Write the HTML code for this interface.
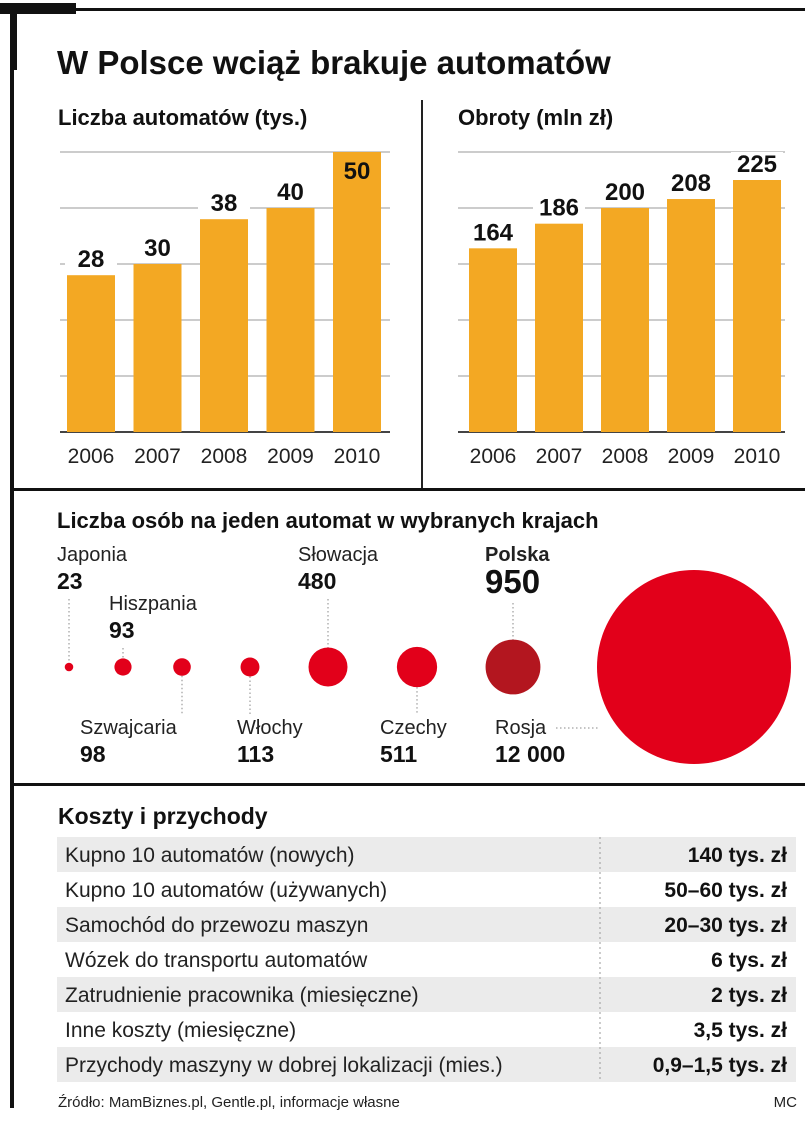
<!DOCTYPE html>
<html><head><meta charset="utf-8">
<style>
body{margin:0;background:#fff;font-family:"Liberation Sans",sans-serif;}
svg text{font-family:"Liberation Sans",sans-serif;}
</style></head>
<body>
<svg id="c" width="805" height="1129" viewBox="0 0 805 1129" xmlns="http://www.w3.org/2000/svg">
<rect x="0" y="0" width="805" height="1129" fill="#fff"/>
<rect x="0" y="3" width="76" height="11" fill="#111"/>
<rect x="76" y="8" width="729" height="3" fill="#111"/>
<rect x="12" y="8" width="5" height="62" fill="#111"/>
<rect x="10" y="8" width="4" height="1100" fill="#111"/>
<text x="57" y="74" font-size="33" font-weight="bold" fill="#111">W Polsce wciąż brakuje automatów</text>
<text x="58" y="125" font-size="22" font-weight="bold" fill="#111">Liczba automatów (tys.)</text>
<text x="458" y="125" font-size="22" font-weight="bold" fill="#111">Obroty (mln zł)</text>
<rect x="421" y="100" width="2" height="388" fill="#222"/>
<rect x="12" y="488" width="793" height="3" fill="#111"/>
<g id="left"></g><g id="right"></g>
<text x="57" y="528" font-size="22" font-weight="bold" fill="#111">Liczba osób na jeden automat w wybranych krajach</text>
<g id="bubbles"></g>
<rect x="12" y="783" width="793" height="3" fill="#111"/>
<text x="58" y="824" font-size="23" font-weight="bold" fill="#111">Koszty i przychody</text>
<g id="table"></g>
<text x="58" y="1107" font-size="15" fill="#222">Źródło: MamBiznes.pl, Gentle.pl, informacje własne</text>
<text x="797" y="1107" font-size="15" fill="#222" text-anchor="end">MC</text>
</svg>
<script>
const years = ["2006","2007","2008","2009","2010"];
const machines = [28,30,38,40,50];
const turnover = [164,186,200,208,225];
const leftMax = 50;
const rightMax = 250;
const countries = ["Japonia","Hiszpania","Szwajcaria","Włochy","Słowacja","Czechy","Polska","Rosja"];
const peoplePerMachine = [23,93,98,113,480,511,950,12000];
const peopleLabels = ["23","93","98","113","480","511","950","12 000"];
const costItems = ["Kupno 10 automatów (nowych)","Kupno 10 automatów (używanych)","Samochód do przewozu maszyn","Wózek do transportu automatów","Zatrudnienie pracownika (miesięczne)","Inne koszty (miesięczne)","Przychody maszyny w dobrej lokalizacji (mies.)"];
const costValues = ["140 tys. zł","50–60 tys. zł","20–30 tys. zł","6 tys. zł","2 tys. zł","3,5 tys. zł","0,9–1,5 tys. zł"];

const NS="http://www.w3.org/2000/svg";
function mk(tag,attrs,parent,text){const e=document.createElementNS(NS,tag);for(const k in attrs)e.setAttribute(k,attrs[k]);if(text!==undefined)e.textContent=text;parent.appendChild(e);return e;}

function barChart(gid,vals,max,x0,x1,firstBar,step,bw,nm){
  const g=document.getElementById(gid);
  const base=432,top=152;
  const y=v=>base-(v/max)*(base-top);
  for(let i=0;i<=5;i++){
    const yy=base-i*(base-top)/5;
    const l=mk('line',{x1:x0,x2:x1,y1:yy,y2:yy,stroke:i==0?'#444':'#999','stroke-width':i==0?2:1},g);
    
    
  }
  vals.forEach((v,i)=>{
    const bx=firstBar+i*step;
    const inside = y(v)-20<top;
    const r=mk('rect',{x:bx,y:y(v),width:bw,height:base-y(v),fill:'#f3a823'},g);
    
    
    if(!inside){
      const bg=mk('rect',{x:bx+bw/2-26,y:y(v)-28,width:52,height:26,fill:'#fff'},g);
      
      
    }
    const t=mk('text',{x:bx+bw/2,y:inside?y(v)+27:y(v)-8,'font-size':24,'font-weight':'bold','text-anchor':'middle',fill:'#111'},g,String(v));
    
    
    const yl=mk('text',{x:bx+bw/2,y:463,'font-size':21,'text-anchor':'middle',fill:'#222'},g,years[i]);
    
    
  });
}
barChart('left',machines,leftMax,60,390,67,66.5,48,'count');
barChart('right',turnover,rightMax,458,785,469,66,48,'turnover');

(function(){
  const g=document.getElementById('bubbles');
  const cx=[69,123,182,250,328,417,513,694];
  const cy=667;
  const rad=v=>Math.max(4,Math.sqrt(v)*0.89);
  const lay=[[57,561,589,1],[109,610,638,1],[80,734,762,0],[237,734,762,0],[298,561,589,1],[380,734,762,0],[485,561,593,1],[495,734,762,0]];
  peoplePerMachine.forEach((v,i)=>{
    let r=rad(v); if(i==7) r=97;
    const L=lay[i];
    if(i<7){
      const y1=L[3]?L[2]+10:cy+r, y2=L[3]?cy-r:L[1]-20;
      const dl=mk('line',{x1:cx[i],x2:cx[i],y1:y1,y2:y2,stroke:'#888','stroke-width':1,'stroke-dasharray':'1.5,2.5'},g);
      
      
    } else {
      const dl=mk('line',{x1:556,x2:600,y1:728,y2:728,stroke:'#888','stroke-width':1,'stroke-dasharray':'1.5,2.5'},g);
      
      
    }
    const c=mk('circle',{cx:cx[i],cy:cy,r:r,fill:i==6?'#b3161f':'#e2001a'},g);
    
    
    const n=mk('text',{x:L[0],y:L[1],'font-size':20,fill:'#222','font-weight':i==6?'bold':'normal'},g,countries[i]);
    
    
    const t=mk('text',{x:L[0],y:L[2],'font-size':i==6?33:23,'font-weight':'bold',fill:'#111'},g,peopleLabels[i]);
    
    
  });
})();

(function(){
  const g=document.getElementById('table');
  const top=837,h=35;
  costItems.forEach((s,i)=>{
    const y=top+i*h;
    if(i%2==0){
      const r=mk('rect',{x:57,y:y,width:739,height:h,fill:'#ebebeb'},g);
      
      
    }
    const t=mk('text',{x:65,y:y+25,'font-size':21,fill:'#222'},g,s);
    
    
    const v=mk('text',{x:787,y:y+25,'font-size':21,'font-weight':'bold','text-anchor':'end',fill:'#111'},g,costValues[i]);
    
    
  });
  const dl=mk('line',{x1:600,x2:600,y1:top,y2:top+7*h,stroke:'#999','stroke-width':1,'stroke-dasharray':'2,3'},g);
  
  
})();
</script>
</body></html>
